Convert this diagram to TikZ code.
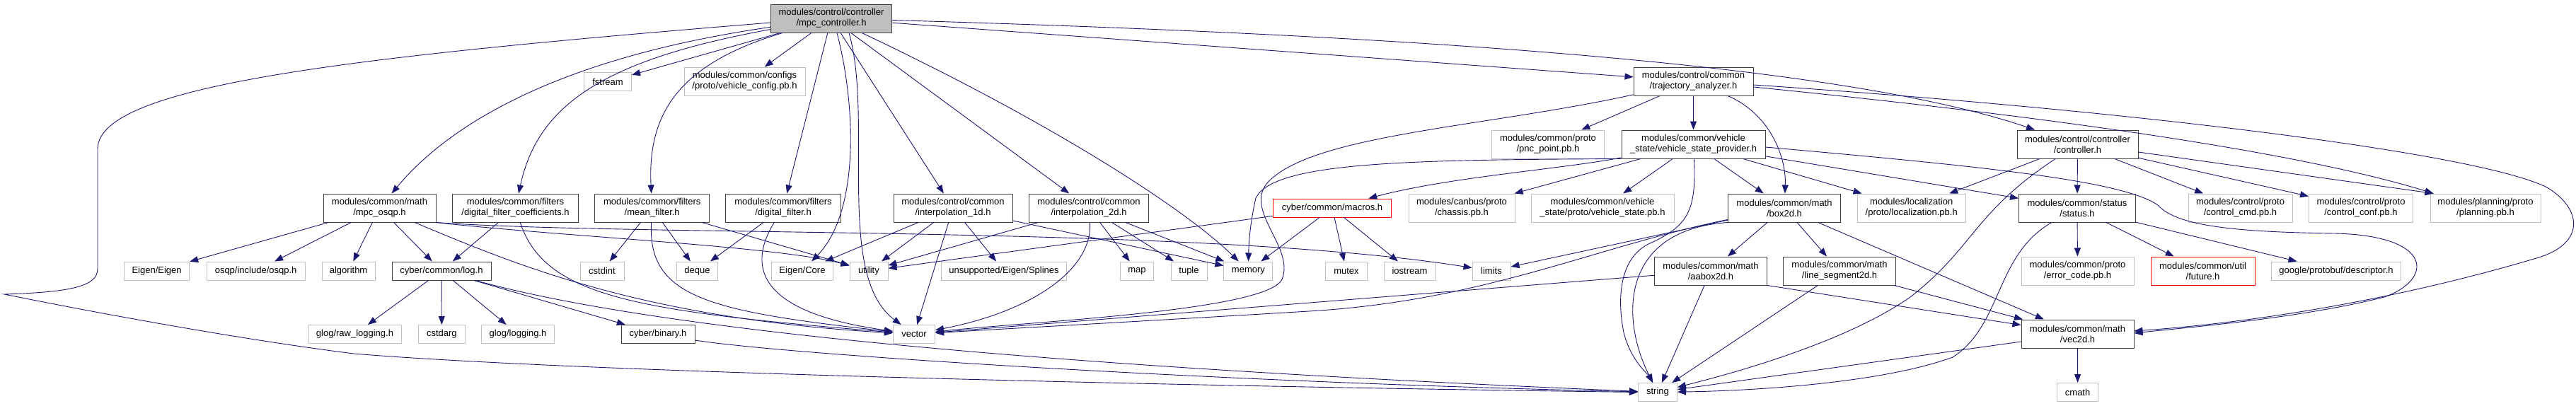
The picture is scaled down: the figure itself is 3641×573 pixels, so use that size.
\documentclass[tikz,border=0pt]{standalone}
\usepackage{fontspec}
\setmainfont{Liberation Sans}
\usetikzlibrary{arrows.meta}
\definecolor{edgecol}{HTML}{191970}
\definecolor{extcol}{HTML}{BFBFBF}
\definecolor{doccol}{HTML}{404040}
\definecolor{trunccol}{HTML}{FF0000}
\begin{document}
\begin{tikzpicture}[x=1pt,y=-1pt,
  gbox/.style={rectangle, line width=1pt, fill=white, inner sep=0pt, align=center,
    font=\fontsize{13}{15}\selectfont},
  doc/.style={gbox, draw=doccol},
  ext/.style={gbox, draw=extcol},
  trunc/.style={gbox, draw=trunccol},
  rootnode/.style={gbox, draw=doccol, fill=extcol},
  one/.style={minimum height=26pt},
  two/.style={minimum height=40pt},
  dep/.style={draw=edgecol, line width=0.9pt, -{Triangle[length=12pt,width=9pt]}}]
\useasboundingbox (0,0) rectangle (3641,573);

% ---------- nodes ----------
\node[rootnode,two,minimum width=171pt] (root) at (1175,26) {modules/control/controller\\/mpc\_controller.h};
\node[ext,one,minimum width=67pt] (fstream) at (859,115.5) {fstream};
\node[ext,two,minimum width=171pt] (vcfg) at (1052.5,115) {modules/common/configs\\/proto/vehicle\_config.pb.h};
\node[doc,two,minimum width=169pt] (traj) at (2393.5,115) {modules/control/common\\/trajectory\_analyzer.h};
\node[ext,two,minimum width=159pt] (pnc) at (2188,204) {modules/common/proto\\/pnc\_point.pb.h};
\node[doc,two,minimum width=203pt] (vsp) at (2393.5,204) {modules/common/vehicle\\\_state/vehicle\_state\_provider.h};
\node[doc,two,minimum width=171pt] (ctrl) at (2936.5,204) {modules/control/controller\\/controller.h};

\node[doc,two,minimum width=159pt] (osqpm) at (536.5,294) {modules/common/math\\/mpc\_osqp.h};
\node[doc,two,minimum width=178pt] (dfc) at (728.5,294) {modules/common/filters\\/digital\_filter\_coefficients.h};
\node[doc,two,minimum width=162pt] (meanf) at (921.7,294) {modules/common/filters\\/mean\_filter.h};
\node[doc,two,minimum width=162.5pt] (digf) at (1107,294) {modules/common/filters\\/digital\_filter.h};
\node[doc,two,minimum width=168pt] (interp1) at (1347,294) {modules/control/common\\/interpolation\_1d.h};
\node[doc,two,minimum width=169pt] (interp2) at (1539,294) {modules/control/common\\/interpolation\_2d.h};
\node[trunc,one,minimum width=167pt] (macros) at (1883,294) {cyber/common/macros.h};
\node[ext,two,minimum width=150pt] (chassis) at (2066,294) {modules/canbus/proto\\/chassis.pb.h};
\node[ext,two,minimum width=202pt] (vstate) at (2265,294) {modules/common/vehicle\\\_state/proto/vehicle\_state.pb.h};
\node[doc,two,minimum width=159pt] (box) at (2522,294) {modules/common/math\\/box2d.h};
\node[ext,two,minimum width=153pt] (loc) at (2701.7,294) {modules/localization\\/proto/localization.pb.h};
\node[doc,two,minimum width=165pt] (status) at (2936,294) {modules/common/status\\/status.h};
\node[ext,two,minimum width=147pt] (ccmd) at (3166.5,294) {modules/control/proto\\/control\_cmd.pb.h};
\node[ext,two,minimum width=147pt] (cconf) at (3337,294) {modules/control/proto\\/control\_conf.pb.h};
\node[ext,two,minimum width=156pt] (plan) at (3513,294) {modules/planning/proto\\/planning.pb.h};

\node[ext,one,minimum width=92pt] (eigen) at (221.6,383) {Eigen/Eigen};
\node[ext,one,minimum width=139pt] (osqp) at (361.6,383) {osqp/include/osqp.h};
\node[ext,one,minimum width=75pt] (algo) at (492.6,383) {algorithm};
\node[doc,one,minimum width=140pt] (log) at (624,383) {cyber/common/log.h};
\node[ext,one,minimum width=62pt] (cstdint) at (851,383) {cstdint};
\node[ext,one,minimum width=58pt] (deque) at (985.5,383) {deque};
\node[ext,one,minimum width=87pt] (ecore) at (1134,383) {Eigen/Core};
\node[ext,one,minimum width=54pt] (utility) at (1228,383) {utility};
\node[ext,one,minimum width=177pt] (splines) at (1419,383) {unsupported/Eigen/Splines};
\node[ext,one,minimum width=47pt] (map) at (1607,383) {map};
\node[ext,one,minimum width=51pt] (tuple) at (1680.5,383) {tuple};
\node[ext,one,minimum width=69pt] (memory) at (1764.4,383) {memory};
\node[ext,one,minimum width=59pt] (mutex) at (1903,383) {mutex};
\node[ext,one,minimum width=72pt] (iostream) at (1992.5,383) {iostream};
\node[ext,one,minimum width=54pt] (limits) at (2108,383) {limits};
\node[doc,two,minimum width=159pt] (aabox) at (2418,383) {modules/common/math\\/aabox2d.h};
\node[doc,two,minimum width=159pt] (lseg) at (2600,383) {modules/common/math\\/line\_segment2d.h};
\node[ext,two,minimum width=159pt] (errc) at (2936.5,383) {modules/common/proto\\/error\_code.pb.h};
\node[trunc,two,minimum width=147pt] (future) at (3113.5,383) {modules/common/util\\/future.h};
\node[ext,one,minimum width=183pt] (desc) at (3302,383) {google/protobuf/descriptor.h};

\node[ext,one,minimum width=131pt] (rawlog) at (501.5,472.5) {glog/raw\_logging.h};
\node[ext,one,minimum width=66pt] (cstdarg) at (624.4,472.5) {cstdarg};
\node[ext,one,minimum width=103pt] (glog) at (732,472.5) {glog/logging.h};
\node[doc,one,minimum width=104pt] (binary) at (930,472.5) {cyber/binary.h};
\node[ext,one,minimum width=59pt] (vector) at (1292,472.5) {vector};
\node[doc,two,minimum width=159pt] (vec2d) at (2936.5,472) {modules/common/math\\/vec2d.h};

\node[ext,one,minimum width=55pt] (string) at (2343,554.5) {string};
\node[ext,one,minimum width=58.5pt] (cmath) at (2936.6,554.5) {cmath};

% ---------- edges: mpc_controller.h ----------
\draw[dep] ([yshift=-6pt]root.west) .. controls (500,80) and (140,120) .. (138,210) -- (138,380)
   .. controls (138,405) and (100,413) .. (6,416) .. controls (200,455) and (380,485) .. (500,500)
   .. controls (800,525) and (1600,545) .. (string.west);
\draw[dep] (root) .. controls (800,80) and (640,170) .. (osqpm);
\draw[dep] (root) .. controls (850,85) and (760,150) .. (dfc);
\draw[dep] (root) -- (fstream);
\draw[dep] (root) -- (vcfg);
\draw[dep] (root) .. controls (960,90) and (915,160) .. (meanf);
\draw[dep] (root) -- (digf);
\draw[dep] ([xshift=8pt]root.south) .. controls (1210,150) and (1215,300) .. (ecore);
\draw[dep] ([xshift=25pt]root.south) .. controls (1235,170) and (1180,390) .. (vector);
\draw[dep] (root) -- (interp1);
\draw[dep] (root) -- (interp2);
\draw[dep] (root) .. controls (1500,180) and (1680,300) .. (memory);
\draw[dep] (root) -- (traj);
\draw[dep] (root) .. controls (2000,50) and (2600,90) .. (ctrl);

% ---------- trajectory_analyzer.h ----------
\draw[dep] (traj) -- (pnc);
\draw[dep] (traj) -- (vsp);
\draw[dep] (traj) .. controls (2500,160) and (2525,220) .. (box);
\draw[dep] (traj) .. controls (2100,180) and (1850,190) .. (1790,260)
   .. controls (1760,300) and (1830,350) .. (1812,395)
   .. controls (1790,440) and (1450,455) .. (vector);
\draw[dep] ([yshift=-5pt]traj.east) .. controls (3000,155) and (3500,215) .. (3600,265)
   .. controls (3650,295) and (3655,345) .. (3585,365)
   .. controls (3400,420) and (3200,455) .. ([yshift=4pt]vec2d.east);
\draw[dep] ([yshift=-8pt]traj.east) .. controls (2900,165) and (3250,215) .. ([xshift=5pt]plan.north west);

% ---------- vehicle_state_provider.h ----------
\draw[dep] (vsp.south west) .. controls (2000,226) and (1800,228) .. (1775,280)
   .. controls (1768,310) and (1765,340) .. (memory);
\draw[dep] (vsp) .. controls (2200,240) and (2050,250) .. (macros);
\draw[dep] (vsp) -- (chassis);
\draw[dep] (vsp) -- (vstate);
\draw[dep] (vsp) .. controls (2398,300) and (2385,320) .. (2330,345)
   .. controls (2290,365) and (2285,420) .. (2295,470)
   .. controls (2305,510) and (2330,530) .. (string);
\draw[dep] (vsp) -- (box);
\draw[dep] (vsp) -- (loc);
\draw[dep] (vsp) -- (status);
\draw[dep] ([yshift=-4pt]vsp.east) .. controls (2800,235) and (3000,255) .. (3050,290)
   .. controls (3075,318) and (3150,328) .. (3300,330)
   .. controls (3440,333) and (3440,395) .. (3370,420)
   .. controls (3250,450) and (3100,462) .. ([yshift=1pt]vec2d.east);

% ---------- controller.h ----------
\draw[dep] (ctrl) -- (loc);
\draw[dep] (ctrl) .. controls (2790,300) and (2790,350) .. (2700,420)
   .. controls (2600,490) and (2420,535) .. (string);
\draw[dep] (ctrl) -- (status);
\draw[dep] (ctrl) -- (ccmd);
\draw[dep] (ctrl) -- (cconf);
\draw[dep] ([yshift=-11pt]ctrl.east) -- ([xshift=5pt]plan.north west);

% ---------- status.h ----------
\draw[dep] (status) -- (errc);
\draw[dep] (status) -- (future);
\draw[dep] (status) -- (desc);
\draw[dep] (status) .. controls (2820,360) and (2830,460) .. (2760,505)
   .. controls (2650,545) and (2450,553) .. (string);

% ---------- box2d.h ----------
\draw[dep] (box) -- (aabox);
\draw[dep] (box) -- (lseg);
\draw[dep] (box) -- (vec2d);
\draw[dep] (box) -- (limits);
\draw[dep] (box.south west) .. controls (2290,325) and (2290,450) .. (string);
\draw[dep] (box) .. controls (2250,350) and (2100,425) .. (1850,440)
   .. controls (1600,455) and (1400,466) .. (vector);

% ---------- aabox2d.h, line_segment2d.h, vec2d.h ----------
\draw[dep] (aabox) -- (vector);
\draw[dep] (aabox) -- (string);
\draw[dep] (aabox.south east) -- (vec2d);
\draw[dep] (lseg) -- (vec2d);
\draw[dep] (lseg) -- (string);
\draw[dep] (vec2d) -- (cmath);
\draw[dep] (vec2d) -- (string);

% ---------- macros.h ----------
\draw[dep] (macros) -- (mutex);
\draw[dep] (macros) -- (iostream);
\draw[dep] (macros) -- (memory);
\draw[dep] (macros) -- (utility);

% ---------- interpolation ----------
\draw[dep] (interp1) -- (ecore);
\draw[dep] (interp1) -- (utility);
\draw[dep] (interp1) -- (vector);
\draw[dep] (interp1) -- (splines);
\draw[dep] (interp1) -- (memory);
\draw[dep] (interp2) -- (utility);
\draw[dep] (interp2) .. controls (1545,380) and (1460,440) .. (vector);
\draw[dep] (interp2) -- (map);
\draw[dep] (interp2) -- (tuple);
\draw[dep] (interp2) -- (memory);

% ---------- filters ----------
\draw[dep] (meanf) -- (cstdint);
\draw[dep] (meanf) -- (deque);
\draw[dep] (meanf) .. controls (915,420) and (1000,440) .. (vector);
\draw[dep] (meanf) -- (utility);
\draw[dep] (digf) -- (deque);
\draw[dep] (digf) .. controls (1060,370) and (1060,440) .. (vector);
\draw[dep] (dfc) -- (log);
\draw[dep] (dfc) .. controls (770,420) and (900,440) .. (vector);

% ---------- mpc_osqp.h ----------
\draw[dep] (osqpm) -- (eigen);
\draw[dep] (osqpm) -- (osqp);
\draw[dep] (osqpm) -- (algo);
\draw[dep] (osqpm) -- (log);
\draw[dep] (osqpm) .. controls (720,370) and (900,450) .. (vector);
\draw[dep] (osqpm.south east) .. controls (800,335) and (1100,348) .. (utility);
\draw[dep] (osqpm.south east) .. controls (900,335) and (1700,318) .. (limits);

% ---------- log.h, binary.h ----------
\draw[dep] (log) -- (rawlog);
\draw[dep] (log) -- (cstdarg);
\draw[dep] (log) -- (glog);
\draw[dep] (log) -- (binary);
\draw[dep] (log) .. controls (900,460) and (1400,515) .. (string);
\draw[dep] (binary) .. controls (1100,500) and (1700,540) .. (string);
\end{tikzpicture}
\end{document}
